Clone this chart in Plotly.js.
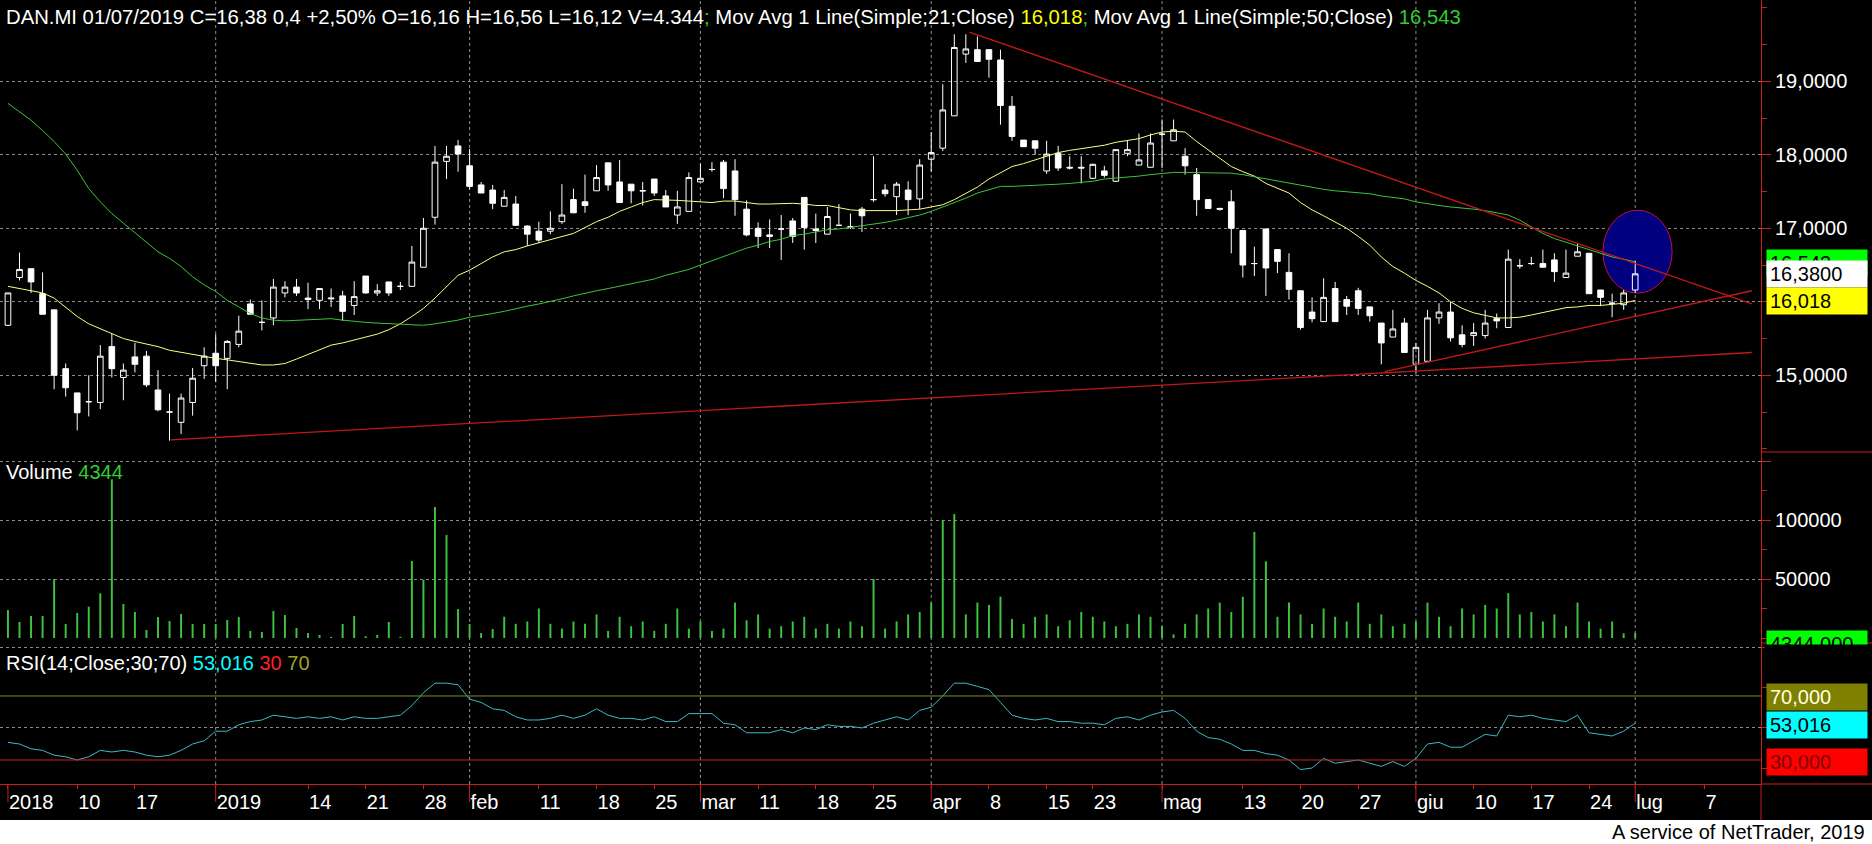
<!DOCTYPE html>
<html><head><meta charset="utf-8">
<script src="https://cdn.plot.ly/plotly-3.0.1.min.js"></script>
<style>html,body{margin:0;padding:0;background:#000;}#chart{width:1872px;height:844px;}</style>
</head><body><div id="chart"></div>
<script>
// ---- trading days (index = bar position) ----
const dates = [
"2018-11-30","2018-12-03","2018-12-04","2018-12-05","2018-12-06","2018-12-07","2018-12-10","2018-12-11","2018-12-12","2018-12-13",
"2018-12-14","2018-12-17","2018-12-18","2018-12-19","2018-12-20","2018-12-21","2018-12-27","2018-12-28","2019-01-02","2019-01-03",
"2019-01-04","2019-01-07","2019-01-08","2019-01-09","2019-01-10","2019-01-11","2019-01-14","2019-01-15","2019-01-16","2019-01-17",
"2019-01-18","2019-01-21","2019-01-22","2019-01-23","2019-01-24","2019-01-25","2019-01-28","2019-01-29","2019-01-30","2019-01-31",
"2019-02-01","2019-02-04","2019-02-05","2019-02-06","2019-02-07","2019-02-08","2019-02-11","2019-02-12","2019-02-13","2019-02-14",
"2019-02-15","2019-02-18","2019-02-19","2019-02-20","2019-02-21","2019-02-22","2019-02-25","2019-02-26","2019-02-27","2019-02-28",
"2019-03-01","2019-03-04","2019-03-06","2019-03-07","2019-03-08","2019-03-11","2019-03-12","2019-03-13","2019-03-14","2019-03-15",
"2019-03-18","2019-03-19","2019-03-20","2019-03-21","2019-03-22","2019-03-25","2019-03-26","2019-03-27","2019-03-28","2019-03-29",
"2019-04-01","2019-04-02","2019-04-03","2019-04-04","2019-04-05","2019-04-08","2019-04-09","2019-04-10","2019-04-11","2019-04-12",
"2019-04-15","2019-04-16","2019-04-17","2019-04-18","2019-04-23","2019-04-24","2019-04-25","2019-04-26","2019-04-29","2019-04-30",
"2019-05-02","2019-05-03","2019-05-06","2019-05-07","2019-05-08","2019-05-09","2019-05-10","2019-05-13","2019-05-14","2019-05-15",
"2019-05-16","2019-05-17","2019-05-20","2019-05-21","2019-05-22","2019-05-23","2019-05-24","2019-05-27","2019-05-28","2019-05-29",
"2019-05-30","2019-05-31","2019-06-03","2019-06-04","2019-06-05","2019-06-06","2019-06-07","2019-06-10","2019-06-11","2019-06-12",
"2019-06-13","2019-06-14","2019-06-17","2019-06-18","2019-06-19","2019-06-20","2019-06-21","2019-06-24","2019-06-25","2019-06-27",
"2019-06-28","2019-07-01"];

const open = [
15.68,16.33,16.45,16.11,15.89,15.09,14.76,14.64,14.63,15.39,
14.97,15.25,15.26,14.80,14.50,14.36,14.63,15.13,15.30,15.23,
15.42,15.97,15.72,15.78,16.12,16.20,16.05,16.02,16.04,16.08,
15.95,16.35,16.12,16.27,16.21,16.21,16.47,17.15,17.91,18.12,
17.85,17.59,17.52,17.30,17.33,17.03,16.96,16.96,17.09,17.39,
17.36,17.51,17.89,17.63,17.60,17.51,17.67,17.44,17.18,17.23,
17.63,17.80,17.90,17.78,17.26,17.00,16.91,16.99,17.10,17.42,
16.99,16.92,17.04,17.02,17.26,17.39,17.52,17.43,17.52,17.40,
17.94,18.09,18.53,19.37,19.43,19.43,19.29,18.66,18.20,18.19,
17.78,18.02,17.83,17.83,17.68,17.78,17.64,18.02,17.86,17.83,
18.28,18.19,17.98,17.73,17.39,17.27,17.36,16.97,16.52,16.99,
16.71,16.40,16.15,15.86,15.73,16.18,16.03,16.15,15.93,15.71,
15.52,15.71,15.15,15.19,15.78,15.86,15.55,15.54,15.54,15.77,
15.65,16.49,16.52,16.52,16.57,16.33,16.62,16.66,16.16,15.98,
15.96,16.16];
const high = [
16.12,16.67,16.45,16.40,15.89,15.16,14.76,15.00,15.41,15.57,
15.16,15.44,15.33,15.07,14.75,14.75,15.10,15.38,15.56,15.48,
15.81,16.03,16.02,16.31,16.28,16.31,16.26,16.18,16.18,16.15,
16.28,16.35,16.24,16.27,16.27,16.76,17.14,18.12,18.12,18.20,
18.08,17.63,17.59,17.52,17.44,17.04,17.09,17.23,17.60,17.54,
17.73,17.86,17.89,17.93,17.60,17.63,17.67,17.52,17.51,17.76,
17.88,17.90,17.93,17.94,17.38,17.08,17.12,17.18,17.14,17.42,
17.20,17.29,17.33,17.20,17.29,17.98,17.60,17.63,17.64,17.94,
18.31,18.96,19.64,19.64,19.61,19.43,19.43,18.80,18.20,18.19,
18.19,18.12,17.98,17.98,17.88,17.85,18.07,18.20,18.29,18.29,
18.48,18.48,18.09,17.82,17.39,17.28,17.52,16.97,16.75,16.99,
16.71,16.66,16.15,16.06,16.32,16.27,16.08,16.19,15.93,15.71,
15.89,15.78,15.44,15.89,15.98,16.00,15.68,15.71,15.89,15.84,
16.71,16.58,16.61,16.71,16.66,16.71,16.79,16.66,16.16,16.11,
16.16,16.56];
const low = [
15.67,16.29,16.12,15.83,14.81,14.71,14.25,14.44,14.54,14.97,
14.66,15.04,14.84,14.51,14.11,14.20,14.45,14.95,14.91,14.81,
15.38,15.83,15.61,15.68,16.06,16.08,15.90,15.90,15.93,15.74,
15.82,16.11,16.08,16.08,16.16,16.21,16.47,17.05,17.67,17.77,
17.53,17.48,17.26,17.30,17.04,16.76,16.80,16.92,17.06,17.21,
17.21,17.51,17.51,17.35,17.34,17.31,17.44,17.29,17.06,17.23,
17.63,17.77,17.41,17.17,16.89,16.73,16.73,16.57,16.80,16.71,
16.80,16.92,17.03,16.99,16.95,17.36,17.43,17.18,17.18,17.26,
17.77,18.05,18.53,19.25,19.27,19.05,18.41,18.19,18.11,18.00,
17.74,17.78,17.80,17.61,17.67,17.69,17.63,17.98,17.86,17.83,
17.82,18.19,17.73,17.17,17.27,17.24,16.66,16.33,16.35,16.08,
16.39,16.03,15.62,15.72,15.73,15.73,15.82,15.82,15.73,15.15,
15.52,15.31,15.03,15.19,15.70,15.46,15.38,15.40,15.50,15.64,
15.65,16.45,16.50,16.47,16.27,16.33,16.62,16.11,15.94,15.79,
15.89,16.12];
const close = [
16.12,16.44,16.27,15.83,15.00,14.83,14.49,14.64,15.26,15.09,
15.07,15.15,14.87,14.53,14.50,14.69,14.96,15.26,15.13,15.46,
15.60,15.83,15.72,16.20,16.20,16.12,16.03,16.18,16.05,15.87,
16.07,16.12,16.15,16.12,16.21,16.54,17.00,17.90,17.98,18.01,
17.57,17.48,17.34,17.42,17.04,16.92,16.84,17.00,17.18,17.21,
17.31,17.69,17.59,17.35,17.51,17.51,17.48,17.29,17.29,17.69,
17.68,17.80,17.54,17.39,16.91,16.89,16.89,16.99,16.89,17.01,
16.97,17.16,17.04,17.02,17.17,17.39,17.47,17.60,17.39,17.86,
18.03,18.61,19.46,19.44,19.27,19.30,18.67,18.25,18.11,18.09,
18.01,17.82,17.82,17.82,17.87,17.72,18.07,18.07,17.93,18.16,
18.28,18.34,17.85,17.39,17.27,17.26,17.00,16.50,16.52,16.46,
16.55,16.17,15.65,15.77,16.06,15.73,15.94,15.91,15.81,15.44,
15.63,15.31,15.38,15.78,15.86,15.51,15.42,15.58,15.71,15.74,
16.58,16.49,16.52,16.47,16.41,16.39,16.68,16.11,16.06,15.98,
16.12,16.38];
const ma21 = [
16.21,16.18,16.14,16.12,16.05,15.93,15.80,15.70,15.63,15.57,
15.50,15.46,15.43,15.39,15.34,15.31,15.28,15.25,15.23,15.21,
15.19,15.16,15.14,15.14,15.16,15.22,15.28,15.34,15.41,15.44,
15.48,15.52,15.56,15.62,15.70,15.80,15.91,16.05,16.21,16.36,
16.43,16.52,16.61,16.68,16.71,16.76,16.80,16.84,16.88,16.93,
17.01,17.09,17.15,17.23,17.29,17.35,17.39,17.39,17.38,17.37,
17.36,17.35,17.37,17.37,17.35,17.33,17.33,17.34,17.34,17.33,
17.31,17.31,17.28,17.25,17.24,17.24,17.23,17.24,17.25,17.26,
17.29,17.32,17.39,17.47,17.56,17.67,17.76,17.84,17.88,17.93,
17.99,18.03,18.06,18.08,18.10,18.13,18.17,18.19,18.22,18.27,
18.31,18.32,18.31,18.18,18.07,17.95,17.84,17.77,17.71,17.61,
17.54,17.48,17.35,17.25,17.17,17.09,17.00,16.89,16.77,16.61,
16.48,16.39,16.29,16.21,16.12,16.00,15.91,15.85,15.81,15.78,
15.78,15.79,15.82,15.85,15.89,15.92,15.93,15.95,15.95,15.97,
15.98,16.018];
const ma50 = [
18.70,18.59,18.47,18.33,18.18,18.01,17.79,17.54,17.36,17.20,
17.07,16.93,16.80,16.68,16.59,16.48,16.34,16.23,16.14,16.02,
15.93,15.84,15.78,15.75,15.74,15.75,15.76,15.77,15.77,15.75,
15.73,15.72,15.71,15.70,15.69,15.69,15.68,15.70,15.72,15.75,
15.79,15.81,15.84,15.87,15.91,15.94,15.97,16.00,16.04,16.08,
16.12,16.15,16.18,16.21,16.24,16.27,16.31,16.36,16.40,16.44,
16.50,16.56,16.61,16.67,16.73,16.77,16.82,16.85,16.90,16.92,
16.95,16.98,16.99,17.01,17.04,17.05,17.08,17.11,17.14,17.18,
17.23,17.29,17.34,17.41,17.48,17.53,17.57,17.57,17.58,17.59,
17.60,17.60,17.61,17.62,17.64,17.67,17.68,17.70,17.71,17.73,
17.75,17.76,17.76,17.76,17.76,17.76,17.75,17.73,17.70,17.67,
17.64,17.61,17.58,17.55,17.53,17.51,17.50,17.49,17.47,17.44,
17.42,17.40,17.36,17.33,17.31,17.29,17.28,17.26,17.24,17.21,
17.18,17.11,17.02,16.93,16.86,16.81,16.75,16.71,16.66,16.61,
16.58,16.543];
const volume = [
23730,13560,18645,18645,50000,11865,21190,26550,37850,134470,
28815,22035,6780,17800,14410,20340,11865,11865,11865,15255,
17800,5930,5085,22880,19490,8475,4240,2540,1000,11865,
18645,1500,2540,13560,1000,65260,49155,111020,87290,24580,
11865,4240,7630,18000,12000,14000,25000,12000,8000,14000,
12000,20000,6000,18000,10000,14000,6000,12000,25000,8000,
14000,6000,8000,30000,15000,20000,8000,10000,14000,18000,
8000,12000,8000,14000,10000,50000,8000,14000,20000,22000,
30000,100000,105000,20000,30000,28000,35000,16000,12000,18000,
20000,10000,15000,22000,18000,14000,10000,12000,20000,18000,
10000,3000,12000,20000,25000,30000,22000,35000,90000,65000,
18000,30000,20000,12000,25000,18000,14000,30000,12000,20000,
10000,12000,14000,30000,18000,10000,25000,20000,28000,25000,
38000,20000,22000,14000,20000,10000,30000,14000,8000,14000,
4000,4344];
const rsi = [
41,40,37,36,33,32,30,32,36,35,
36,35,33,32,33,36,40,42,48,48,
52,54,55,58,57,56,57,56,57,55,
57,56,56,57,58,64,72,78,78,77,
68,66,62,61,57,55,55,56,58,56,
58,62,58,56,56,55,57,54,54,59,
59,59,53,52,47,47,47,49,47,50,
49,52,51,51,50,53,55,57,55,61,
63,70,78,78,76,74,66,58,56,55,
56,54,54,53,53,52,56,57,55,58,
60,61,56,48,44,43,40,36,36,34,
33,30,24,25,31,28,29,30,28,26,
29,26,31,40,41,38,38,42,46,45,
58,57,58,56,55,54,58,47,46,45,
48,53.016];

// axis ticks (bar index -> label)
const tickIdx  = [0,6,11,18,26,31,36,40,46,51,56,60,65,70,75,80,85,90,94,100,107,112,117,122,127,132,137,141,147];
const tickText = ["2018","10","17","2019","14","21","28","feb","11","18","25","mar","11","18","25","apr","8","15","23","mag","13","20","27","giu","10","17","24","lug","7"];
const monthIdx = [0,18,40,60,80,100,122,141];
const priceTicks = [15,16,17,18,19];
const volTicks = [50000,100000,150000];

// drawn trend lines (bar index, price)
const supportLongX = [14.1, 151.1],  supportLongY = [14.12, 15.31];
const supportShortX = [119.3, 151.1], supportShortY = [15.05, 16.15];
const resistX = [83.3, 151.1],        resistY = [19.67, 15.97];
// highlighted zone
const ellipseX = [138.2, 144.2], ellipseY = [16.117, 17.246];

// ---- layout geometry ----
const W = 1872, H = 844, PW = 1761, PH = 784;
const px = x => x / PW, py = y => 1 - y / PH;
const FONT = 'Liberation Sans, Arial, sans-serif';
const RED = '#c81e1e', GRID = '#8c8c8c';
const idx = dates.map((d, i) => i);

const traces = [
  {type:'candlestick', x: idx, open, high, low, close, xaxis:'x', yaxis:'y',
   increasing:{line:{color:'#ffffff', width:1}, fillcolor:'rgba(0,0,0,0)'},
   decreasing:{line:{color:'#ffffff', width:1}, fillcolor:'#ffffff'},
   whiskerwidth:0, hoverinfo:'skip'},
  {type:'scatter', mode:'lines', x: idx, y: ma21, line:{color:'#ffff80', width:1}, xaxis:'x', yaxis:'y', hoverinfo:'skip'},
  {type:'scatter', mode:'lines', x: idx, y: ma50, line:{color:'#3fc23f', width:1}, xaxis:'x', yaxis:'y', hoverinfo:'skip'},
  {type:'scatter', mode:'lines', x: supportLongX, y: supportLongY, line:{color:'#c01818', width:1.3}, xaxis:'x', yaxis:'y'},
  {type:'scatter', mode:'lines', x: supportShortX, y: supportShortY, line:{color:'#c01818', width:1.3}, xaxis:'x', yaxis:'y'},
  {type:'scatter', mode:'lines', x: resistX, y: resistY, line:{color:'#c01818', width:1.3}, xaxis:'x', yaxis:'y'},
  {type:'bar', x: idx, y: volume, width:0.17, marker:{color:'#3fc23f', line:{width:0}}, xaxis:'x', yaxis:'y2', hoverinfo:'skip'},
  {type:'scatter', mode:'lines', x: idx, y: rsi, line:{color:'#3cb8c8', width:1}, xaxis:'x', yaxis:'y3', hoverinfo:'skip'}
];

const shapes = [];
monthIdx.slice(1).forEach(m => shapes.push({type:'line', xref:'x', yref:'paper', x0:m, x1:m, y0:0, y1:1,
  line:{color:GRID, width:1, dash:'3px,3px'}, layer:'below'}));
monthIdx.forEach(m => shapes.push({type:'line', xref:'x', yref:'paper', x0:m, x1:m, y0:0, y1:py(802),
  line:{color:RED, width:1}, layer:'above'}));
shapes.push({type:'circle', xref:'x', yref:'y', x0:ellipseX[0], x1:ellipseX[1], y0:ellipseY[0], y1:ellipseY[1],
  fillcolor:'#000080', line:{color:'#c0103a', width:1}, layer:'between'});
shapes.push({type:'line', xref:'paper', yref:'y3', x0:0, x1:1, y0:70, y1:70, line:{color:'#7c8c2c', width:1}});
shapes.push({type:'line', xref:'paper', yref:'y3', x0:0, x1:1, y0:30, y1:30, line:{color:'#c81e1e', width:1}});
[452, 643].forEach(y => shapes.push({type:'line', xref:'paper', yref:'paper', x0:1, x1:px(W), y0:py(y), y1:py(y), line:{color:RED, width:1}}));
shapes.push({type:'line', xref:'paper', yref:'paper', x0:1, x1:px(W), y0:0, y1:0, line:{color:RED, width:1}});
shapes.push({type:'line', xref:'paper', yref:'paper', x0:1, x1:1, y0:0, y1:py(820), line:{color:RED, width:1}});
shapes.push({type:'rect', xref:'paper', yref:'paper', x0:px(-5), x1:px(W+5), y0:py(H+5), y1:py(820),
  fillcolor:'#ffffff', line:{width:0}, layer:'above'});

function box(text, yTop, bg, fg) {
  return {xref:'paper', yref:'paper', x:px(1766), y:py(yTop), xanchor:'left', yanchor:'top',
    text:text, showarrow:false, bgcolor:bg, width:94, height:20, borderpad:3, align:'left',
    font:{family:FONT, size:20, color:fg}};
}

const annotations = [
  {xref:'paper', yref:'paper', x:px(4), y:py(17), xanchor:'left', yanchor:'middle', showarrow:false,
   font:{family:FONT, size:20.3, color:'#ffffff'},
   text:'DAN.MI 01/07/2019 C=16,38 0,4 +2,50% O=16,16 H=16,56 L=16,12 V=4.344<span style="color:#33cc33">;</span> Mov Avg 1 Line(Simple;21;Close) <span style="color:#ffff00">16,018</span><span style="color:#33cc33">;</span> Mov Avg 1 Line(Simple;50;Close) <span style="color:#33cc33">16,543</span>'},
  {xref:'paper', yref:'paper', x:px(4), y:py(472), xanchor:'left', yanchor:'middle', showarrow:false,
   font:{family:FONT, size:20, color:'#ffffff'},
   text:'Volume <span style="color:#33cc33">4344</span>'},
  {xref:'paper', yref:'paper', x:px(4), y:py(663), xanchor:'left', yanchor:'middle', showarrow:false,
   font:{family:FONT, size:20, color:'#ffffff'},
   text:'RSI(14;Close;30;70) <span style="color:#00ffff">53,016</span> <span style="color:#ff2020">30</span> <span style="color:#a0a020">70</span>'},
  box('16,543', 249, '#00ff00', '#000000'),
  box('16,3800', 260, '#ffffff', '#000000'),
  box('16,018', 287, '#ffff00', '#000000'),
  box('4344,000', 630, '#00ff00', '#000000'),
  {xref:'paper', yref:'paper', x:px(1764), y:py(644), xanchor:'left', yanchor:'top', text:' ', showarrow:false,
   bgcolor:'#000000', width:104, height:14, borderpad:0, font:{size:10}},
  box('70,000', 683, '#808000', '#ffffe0'),
  box('53,016', 711, '#00ffff', '#000000'),
  box('30,000', 748, '#ff0000', '#800000'),
  {xref:'paper', yref:'paper', x:px(1867), y:py(832), xanchor:'right', yanchor:'middle', showarrow:false,
   font:{family:FONT, size:20, color:'#000000'}, text:'A service of NetTrader, 2019'}
];

const axisFont = {family:FONT, size:20, color:'#ffffff'};
const layout = {
  width:W, height:H, paper_bgcolor:'#000000', plot_bgcolor:'#000000', showlegend:false,
  margin:{l:0, r:W-PW, t:0, b:H-PH, pad:0},
  font:{family:FONT, size:20, color:'#ffffff'},
  xaxis:{range:[-0.69, 151.9], anchor:'y3', showgrid:false, zeroline:false, showline:true, linecolor:RED, linewidth:1,
    tickmode:'array', tickvals:tickIdx, ticktext:tickText, ticks:'outside', ticklen:4, tickcolor:RED,
    ticklabelposition:'outside right', tickfont:axisFont, rangeslider:{visible:false}, fixedrange:true},
  yaxis:{domain:[1-452/PH, 1], range:[13.956, 20.106], side:'right', anchor:'x', showline:true, linecolor:RED, linewidth:1,
    tickmode:'array', tickvals:priceTicks, ticktext:priceTicks.map(v => v + ',0000'), ticks:'outside', ticklen:9, tickcolor:RED,
    showgrid:true, gridcolor:GRID, griddash:'3px,3px', gridwidth:1, zeroline:false, tickfont:axisFont,
    minor:{tick0:0, dtick:0.5, ticks:'outside', ticklen:5, tickcolor:RED, showgrid:false}},
  yaxis2:{domain:[1-643/PH, 1-452/PH], range:[-4237, 157635], side:'right', anchor:'x', showline:true, linecolor:RED, linewidth:1,
    tickmode:'array', tickvals:volTicks, ticktext:['50000','100000',''], ticks:'outside', ticklen:9, tickcolor:RED,
    showgrid:true, gridcolor:GRID, griddash:'3px,3px', gridwidth:1, zeroline:false, tickfont:axisFont,
    minor:{tick0:0, dtick:25000, ticks:'outside', ticklen:5, tickcolor:RED, showgrid:false}},
  yaxis3:{domain:[0, 1-643/PH], range:[15, 103.1], side:'right', anchor:'x', showline:true, linecolor:RED, linewidth:1,
    tickmode:'array', tickvals:[50,100], ticktext:['',''], ticks:'outside', ticklen:9, tickcolor:RED,
    showgrid:true, gridcolor:GRID, griddash:'3px,3px', gridwidth:1, zeroline:false, tickfont:axisFont,
    minor:{tick0:0, dtick:25, ticks:'outside', ticklen:5, tickcolor:RED, showgrid:false}},
  shapes, annotations
};

Plotly.newPlot('chart', traces, layout, {staticPlot:true, displayModeBar:false});
</script></body></html>
